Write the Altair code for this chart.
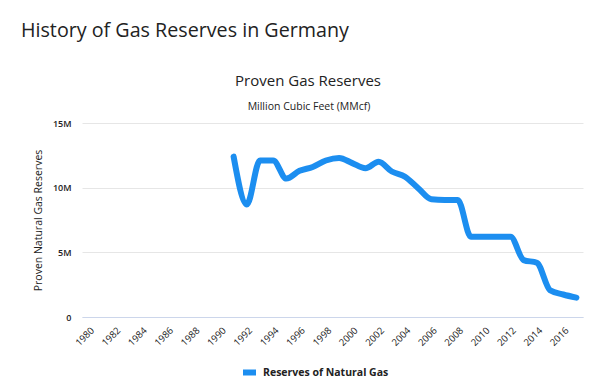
import altair as alt
import pandas as pd

years = list(range(1991, 2018))
reserves = [12.4, 8.7, 12.1, 12.1, 10.7, 11.3, 11.6, 12.1, 12.3, 11.9, 11.5, 12.0,
            11.25, 10.85, 9.96, 9.1, 9.05, 9.05, 6.2, 6.2, 6.2, 6.2, 4.4, 4.2,
            2.07, 1.74, 1.5]
series_name = "Reserves of Natural Gas"
x_ticks = list(range(1980, 2017, 2))
y_ticks = [0, 5e6, 10e6, 15e6]

df = pd.DataFrame({"year": years, "value": [v * 1e6 for v in reserves], "series": series_name})

FONT = "Open Sans"
TXT = "#222222"
BLUE = "#1c8ef0"

line = alt.Chart(df).mark_line(strokeWidth=6, interpolate="monotone", strokeCap="round", strokeJoin="round").encode(
    x=alt.X("year:Q",
            scale=alt.Scale(domain=[1979.5, 2017.5], nice=False, zero=False),
            axis=alt.Axis(values=x_ticks, format="d", labelAngle=-45, title=None, grid=False,
                          ticks=False, domainColor="#ccd6eb", domainWidth=1,
                          labelFontSize=9.5, labelColor=TXT, labelFont=FONT, labelPadding=8,
                          labelOverlap=False)),
    y=alt.Y("value:Q",
            scale=alt.Scale(domain=[0, 15e6], nice=False),
            axis=alt.Axis(values=y_ticks, labelExpr="datum.value == 0 ? '0' : format(datum.value, '~s')",
                          title="Proven Natural Gas Reserves",
                          domain=False, ticks=False, gridColor="#e6e6e6", gridWidth=1,
                          labelFontSize=9, labelColor=TXT, labelFont=FONT, labelFontWeight=600,
                          labelPadding=11, titleFont=FONT, titleFontSize=10.5,
                          titleFontWeight="normal", titleColor=TXT, titlePadding=9)),
    color=alt.Color("series:N",
                    scale=alt.Scale(domain=[series_name], range=[BLUE]),
                    legend=alt.Legend(title=None, orient="none", legendX=158, legendY=240,
                                      symbolType="M-1,0L1,0", symbolSize=169,
                                      symbolStrokeWidth=6, labelFont=FONT, labelFontSize=10.5,
                                      labelFontWeight="bold", labelColor=TXT, labelOffset=4,
                                      padding=0)),
)

def label(text, x, y, size, weight="normal", align="center"):
    return alt.Chart(pd.DataFrame({"t": [text]})).mark_text(
        font=FONT, fontSize=size, fontWeight=weight, color=TXT, align=align, baseline="alphabetic"
    ).encode(text="t:N", x=alt.value(x), y=alt.value(y))

main_title = label("History of Gas Reserves in Germany", -61, -86, 19.7, align="left")
chart_title = label("Proven Gas Reserves", 226, -37, 15)
subtitle = label("Million Cubic Feet (MMcf)", 227, -13, 10.5)

chart = alt.layer(line, main_title, chart_title, subtitle).properties(
    width=501, height=194,
    padding={"left": 74, "top": 115, "right": 9, "bottom": 63},
    autosize=alt.AutoSizeParams(type="none"),
).configure_view(stroke=None)

chart.save("out.html", embed_options={"renderer": "svg", "actions": False})
